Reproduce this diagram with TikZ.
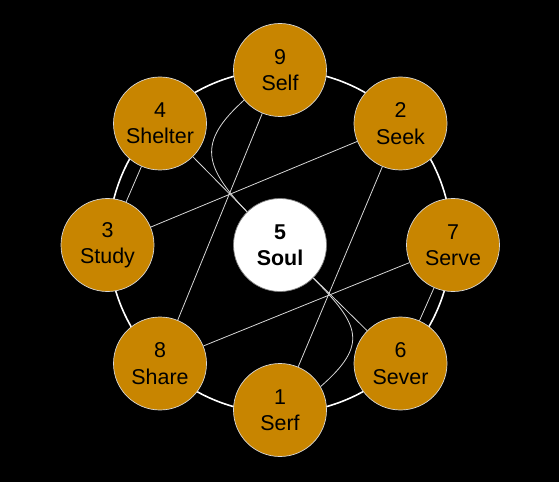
\documentclass[tikz,border=0pt]{standalone}
\usepackage{fontspec}
\setmainfont{Liberation Sans}
\definecolor{ochre}{RGB}{200,133,0}
\definecolor{linegray}{RGB}{215,215,215}
\begin{document}
\begin{tikzpicture}[x=1bp,y=-1bp,
  petal/.style={circle,minimum size=93bp,inner sep=0pt,fill=ochre,draw=linegray,line width=0.7bp,
    align=center,font=\fontsize{21.5}{26.5}\selectfont,text=black},
  soul/.style={petal,fill=white,draw=gray,font=\fontsize{21.5}{26.5}\selectfont\bfseries},
  link/.style={draw=linegray,line width=0.8bp},
  ring/.style={draw=white,line width=1.6bp}]
\fill[black] (0,0) rectangle (559,482);
\useasboundingbox (0,0) rectangle (559,482);
\draw[ring] (280,241.5) circle[radius=171.5];
\node[petal] (n9) at (280,70) {9\\Self};
\node[petal] (n2) at (400.5,123.5) {2\\Seek};
\node[petal] (n7) at (453,245) {7\\Serve};
\node[petal] (n6) at (400.5,363.5) {6\\Sever};
\node[petal] (n1) at (280,410) {1\\Serf};
\node[petal] (n8) at (160,363.5) {8\\Share};
\node[petal] (n3) at (107.5,245) {3\\Study};
\node[petal] (n4) at (160,123.5) {4\\Shelter};
\node[soul] (n5) at (280,245) {5\\Soul};
\draw[link] (n3) -- (n2);
\draw[link] (n9) -- (n8);
\draw[link] (n2) -- (n1);
\draw[link] (n8) -- (n7);
\draw[link] (n4) -- (n5);
\draw[link] (n5) -- (n6);
\draw[link] (n3) -- (n4);
\draw[link] (n7) -- (n6);
\draw[link] (n9.220) .. controls +(-48,43) and +(-42,-45) .. (n5.135);
\draw[link] (n1.30) .. controls +(48,-42) and +(47,47) .. (n5.-45);
\end{tikzpicture}
\end{document}
